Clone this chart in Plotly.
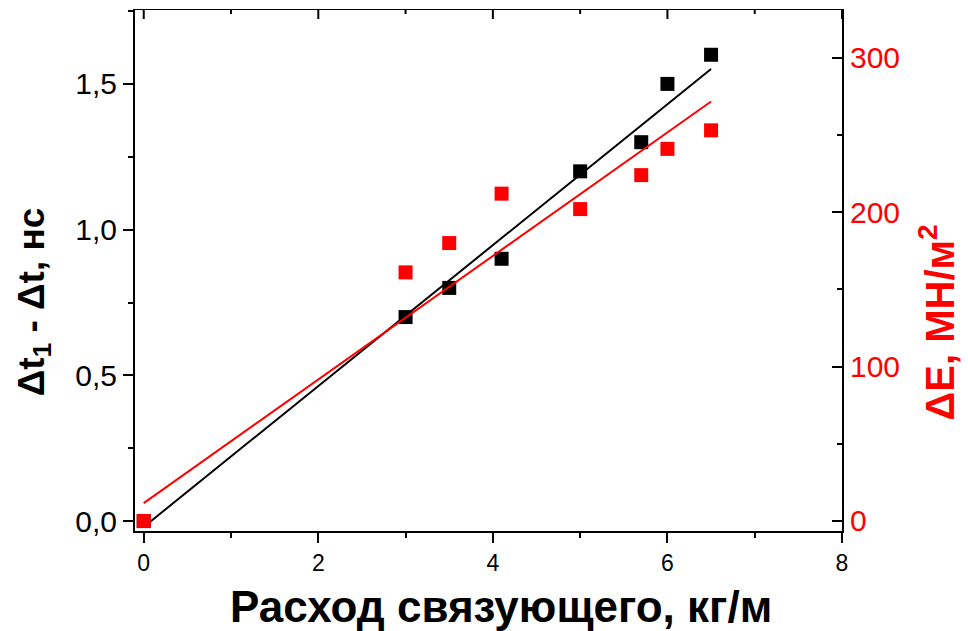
import plotly.graph_objects as go

# Data
x_vals = [0, 3, 3.5, 4.1, 5, 5.7, 6, 6.5]
dt_vals = [0, 0.7, 0.8, 0.9, 1.2, 1.3, 1.5, 1.6]          # left axis, ns
dE_vals = [0, 161, 180, 212, 202, 224, 241, 253]          # right axis, MN/m^2

# Fit lines (endpoints)
fit_x = [0, 6.5]
dt_fit = [-0.02, 1.551]
dE_fit = [11.6, 271.7]

x_ticks = [0, 2, 4, 6, 8]
x_minor_ticks = [1, 3, 5, 7]
y1_ticks = [0, 0.5, 1.0, 1.5]
y2_ticks = [0, 100, 200, 300]

X_RANGE = [-0.1, 8.0]
Y1_RANGE = [-0.034, 1.757]
Y2_RANGE = [-6.5, 331.6]

H, MT, MB = 631, 9, 100
plot_h = H - MT - MB
px_to_y = (Y1_RANGE[1] - Y1_RANGE[0]) / plot_h

fig = go.Figure()

fig.add_trace(go.Scatter(x=fit_x, y=dt_fit, mode="lines",
                         line=dict(color="black", width=2), xaxis="x", yaxis="y",
                         showlegend=False, hoverinfo="skip"))
fig.add_trace(go.Scatter(x=fit_x, y=dE_fit, mode="lines",
                         line=dict(color="#ff0000", width=2), xaxis="x", yaxis="y2",
                         showlegend=False, hoverinfo="skip"))
fig.add_trace(go.Scatter(x=x_vals, y=dt_vals, mode="markers",
                         marker=dict(symbol="square", size=14, color="black"),
                         xaxis="x", yaxis="y", showlegend=False))
fig.add_trace(go.Scatter(x=x_vals, y=dE_vals, mode="markers",
                         marker=dict(symbol="square", size=14, color="#ff0000"),
                         xaxis="x", yaxis="y2", showlegend=False))

# top frame (Origin-style box) with inward ticks, drawn on the axes' own scales
top = Y1_RANGE[1]
frame_x, frame_y = [X_RANGE[0], X_RANGE[1], None], [top, top, None]
for t in x_ticks:
    frame_x += [t, t, None]
    frame_y += [top, top - 10 * px_to_y, None]
for t in x_minor_ticks:
    frame_x += [t, t, None]
    frame_y += [top, top - 5 * px_to_y, None]
fig.add_trace(go.Scatter(x=frame_x, y=frame_y, mode="lines", cliponaxis=False,
                         line=dict(color="black", width=2), xaxis="x", yaxis="y",
                         showlegend=False, hoverinfo="skip", connectgaps=False))

tick_font = dict(family="Liberation Sans", size=30, color="black")

fig.update_layout(
    width=968, height=H,
    margin=dict(l=135, r=126, t=MT, b=MB),
    paper_bgcolor="white", plot_bgcolor="white",
    separators=", ",
    xaxis=dict(range=X_RANGE, tickvals=x_ticks, ticks="outside", ticklen=10, tickwidth=2,
               tickcolor="black", showline=True, linecolor="black", linewidth=2,
               showgrid=False, zeroline=False,
               tickfont=dict(family="Liberation Sans", size=23, color="black"),
               minor=dict(ticks="outside", ticklen=5, tickwidth=2, tickcolor="black", dtick=1,
                          tick0=0, showgrid=False)),
    yaxis=dict(range=Y1_RANGE, tickvals=y1_ticks, tickformat=".1f", ticks="outside",
               ticklen=10, tickwidth=2, tickcolor="black", showline=True, linecolor="black",
               linewidth=2, showgrid=False, zeroline=False, tickfont=tick_font,
               minor=dict(ticks="outside", ticklen=5, tickwidth=2, tickcolor="black",
                          dtick=0.25, tick0=0, showgrid=False)),
    yaxis2=dict(range=Y2_RANGE, overlaying="y", side="right", anchor="x", tickvals=y2_ticks,
                ticks="inside", ticklen=10, tickwidth=2, tickcolor="black", showline=True,
                linecolor="black", linewidth=2, showgrid=False, zeroline=False,
                tickfont=dict(family="Liberation Sans", size=30, color="#ff0000"),
                minor=dict(ticks="inside", ticklen=5, tickwidth=2, tickcolor="black",
                           dtick=50, tick0=0, showgrid=False)),
    annotations=[
        dict(text="<b>Расход связующего, кг/м</b>", xref="paper", yref="paper",
             x=0.517, y=-0.145, xanchor="center", yanchor="middle", showarrow=False,
             font=dict(family="Liberation Sans", size=44, color="black")),
        dict(text="<b>Δt<sub>1</sub> - Δt, нс</b>", xref="paper", yref="paper",
             x=-0.143, y=0.44, xanchor="center", yanchor="middle", showarrow=False,
             textangle=-90,
             font=dict(family="Liberation Sans", size=37, color="black")),
        dict(text="<b>ΔE, МН/м<sup>2</sup></b>", xref="paper", yref="paper",
             x=1.134, y=0.399, xanchor="center", yanchor="middle", showarrow=False,
             textangle=-90,
             font=dict(family="Liberation Sans", size=40, color="#ff0000")),
    ],
)

fig.write_html("out.html")
